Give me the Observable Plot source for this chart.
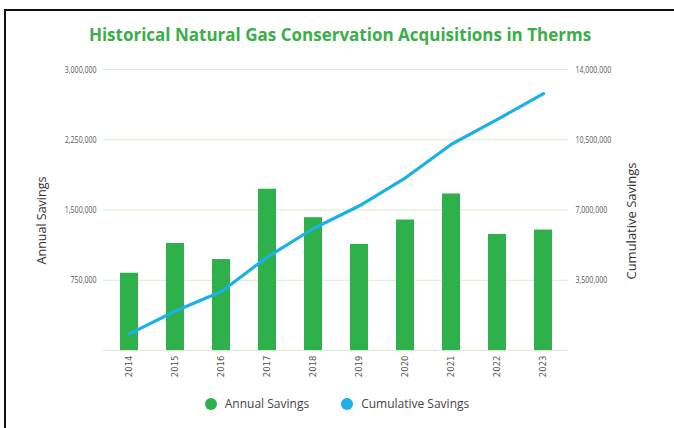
<!DOCTYPE html>
<html>
<head>
<meta charset="utf-8">
<script src="https://cdn.jsdelivr.net/npm/d3@7"></script>
<script src="https://cdn.jsdelivr.net/npm/@observablehq/plot@0.6"></script>
<style>
  html, body { margin: 0; padding: 0; background: #fff; }
  #wrap { position: relative; width: 674px; height: 428px; overflow: hidden; background: #fff; }
  #frameTop { position: absolute; left: 4px; top: 9px; width: 670px; height: 2px; background: #111; }
  #frameLeft { position: absolute; left: 4px; top: 9px; width: 2px; height: 419px; background: #111; }
  #title { position: absolute; left: 3px; width: 674px; top: 23px; text-align: center;
    font-family: "Open Sans", sans-serif; font-weight: 700; font-size: 17px; color: #3aae48; }
  #chart { position: absolute; left: 0; top: 50px; }
  #legend { position: absolute; left: 0; width: 674px; top: 395px; display: flex; justify-content: center;
    font-family: "Open Sans", sans-serif; font-size: 12px; color: #444; }
  .item { display: flex; align-items: center; margin: 0 16px; }
  .sw { width: 12px; height: 12px; border-radius: 50%; margin-right: 8px; }
  .ytitle { position: absolute; font-family: "Open Sans", sans-serif; color: #333;
    white-space: nowrap; transform-origin: center center; }
</style>
</head>
<body>
<div id="wrap">
  <div id="frameTop"></div>
  <div id="frameLeft"></div>
  <div id="title">Historical Natural Gas Conservation Acquisitions in Therms</div>
  <div id="chart"></div>
  <div class="ytitle" id="yl" style="font-size:12.5px">Annual Savings</div>
  <div class="ytitle" id="yr" style="font-size:13px">Cumulative Savings</div>
  <div id="legend"></div>
</div>
<script>
const years = ["2014","2015","2016","2017","2018","2019","2020","2021","2022","2023"];
const annualSavings = [825000, 1143000, 971000, 1722000, 1418000, 1132000, 1393000, 1671000, 1239000, 1286000];
const cumulativeSavings = [825000, 1968000, 2939000, 4661000, 6079000, 7211000, 8604000, 10275000, 11514000, 12800000];
const leftTicks = [750000, 1500000, 2250000, 3000000];
const rightTicks = [3500000, 7000000, 10500000, 14000000];
const gridTicks = [0, 750000, 1500000, 2250000, 3000000];
const leftMax = 3000000, rightMax = 14000000;
const seriesNames = ["Annual Savings", "Cumulative Savings"];
const colors = ["#2eb14b", "#1cb0e6"];

const k = leftMax / rightMax;
const rows = years.map((y, i) => ({year: y, annual: annualSavings[i], cum: cumulativeSavings[i]}));
const fmt = d3.format(",");
const tickFont = {fontFamily: "'Open Sans', sans-serif", fontSize: "9.5px", fill: "#555"};

const chart = Plot.plot({
  width: 674,
  height: 340,
  marginTop: 19,
  marginBottom: 40,
  marginLeft: 103,
  marginRight: 106,
  style: {background: "transparent", overflow: "visible"},
  x: {domain: years, paddingInner: 0.61, paddingOuter: 0.305, label: null},
  y: {domain: [0, leftMax], label: null},
  marks: [
    Plot.gridY(gridTicks, {stroke: "#d6ebcf", strokeOpacity: 1, strokeWidth: 1}),
    Plot.barY(rows, {x: "year", y: "annual", fill: colors[0]}),
    Plot.line(rows, {x: "year", y: d => d.cum * k, stroke: colors[1], strokeWidth: 3.2, strokeLinejoin: "round", strokeLinecap: "round"}),
    Plot.axisY(leftTicks, {anchor: "left", tickSize: 0, tickPadding: 7, tickFormat: fmt, label: null, ...tickFont, className: "ycond"}),
    Plot.axisY(rightTicks.map(v => v * k), {anchor: "right", tickSize: 0, tickPadding: 7, tickFormat: v => fmt(Math.round(v / k)), label: null, ...tickFont, className: "ycond"}),
    Plot.axisX({tickSize: 0, tickPadding: 5, tickRotate: -90, label: null, fontFamily: "'DejaVu Sans', sans-serif", fontSize: "8.5px", fill: "#555", letterSpacing: "2.2px"})
  ]
});
document.getElementById("chart").appendChild(chart);

// condense the y tick labels horizontally (the reference uses a narrow face)
d3.select(chart).selectAll("g[aria-label='y-axis tick label'] text").each(function() {
  const t = this.getAttribute("transform") || "";
  this.setAttribute("transform", t + " scale(0.74,1)");
});

const legend = document.getElementById("legend");
seriesNames.forEach((n, i) => {
  const it = document.createElement("div");
  it.className = "item";
  it.innerHTML = `<span class="sw" style="background:${colors[i]}"></span><span>${n}</span>`;
  legend.appendChild(it);
});

function placeTitle(id, cx, cy) {
  const el = document.getElementById(id);
  const w = el.offsetWidth, h = el.offsetHeight;
  el.style.left = (cx - w / 2) + "px";
  el.style.top = (cy - h / 2) + "px";
  el.style.transform = "rotate(-90deg)";
}
placeTitle("yl", 42, 220);
placeTitle("yr", 630, 221);
</script>
</body>
</html>
